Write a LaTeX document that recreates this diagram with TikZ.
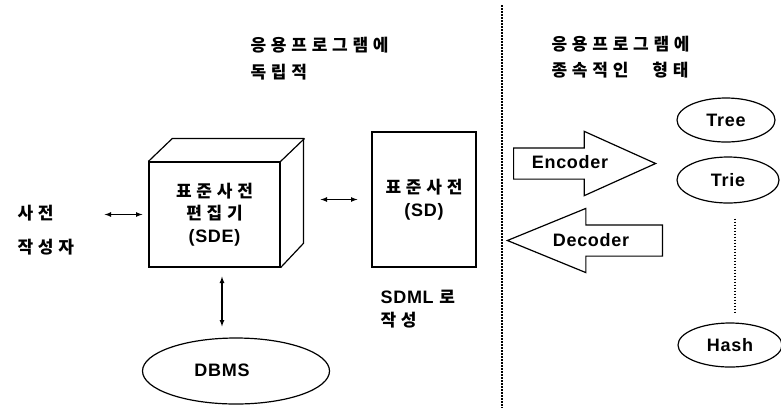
\documentclass[tikz,border=0pt]{standalone}
\usepackage{fontspec}
\setmainfont{Liberation Sans}[LetterSpace=4]
\newfontfamily\krfont{Noto Sans CJK KR}[LetterSpace=28]
\usepackage{tikz}
\usetikzlibrary{shapes.geometric}
\usetikzlibrary{shapes.arrows}
\usetikzlibrary{positioning}
\usetikzlibrary{calc}
\newcommand{\kr}{\krfont\bfseries\fontsize{17}{22.5}\selectfont}
\tikzset{every picture/.style={line width=1.2pt,x=1pt,y=-1pt},
krtxt/.style={font=\krfont\bfseries\fontsize{17}{26.5}\selectfont,inner sep=0pt,align=left},
lat/.style={font=\bfseries\fontsize{18}{22.5}\selectfont,inner sep=0pt},
box/.style={draw,rectangle,inner sep=0pt,align=center,font=\bfseries\fontsize{18}{22.5}\selectfont},
ell/.style={draw,ellipse,inner sep=0pt,font=\bfseries\fontsize{18}{22}\selectfont},
blk/.style={draw,single arrow,single arrow head extend=16.5pt,single arrow head indent=0pt,inner xsep=0pt,inner ysep=15pt},
dotline/.style={line width=1.6pt,dash pattern=on 1.6pt off 1.4pt}}

\begin{document}
\begin{tikzpicture}
\useasboundingbox (0,0) rectangle (781,408);
% headers
\node (hdrl) at (250,58.5) [krtxt,anchor=west] {응용프로그램에\\독립적};
\node (hdrr) at (551,57) [krtxt,anchor=west] {응용프로그램에\\종속적인\hspace{24pt}형태};
\coordinate (divtop) at (502,5);
\coordinate (divbot) at (502,408);
\draw[dotline] (divtop) -- (divbot);

% editor (cube)
\node (sde) at (214.5,214.5) [box,minimum width=131pt,minimum height=105pt] {{\kr 표준사전}\\{\kr 편집기}\\(SDE)};
\draw (sde.north west) -- ++(24,-23) -- ++(131,0) -- ++(0,105) -- (sde.south east);
\draw (sde.north east) -- ++(24,-23);
\node (writer) at (17,230) [krtxt,anchor=west,font=\krfont\bfseries\fontsize{17}{34}\selectfont] {사전\\작성자};
\draw[latex-latex,shorten <=30pt,shorten >=6pt] (writer.east |- sde.west) -- (sde.west);

% DBMS
\node (dbms) at (236,371) [ell,minimum width=187pt,minimum height=66pt] {};
\node (dbmstxt) at (222,370) [lat] {DBMS};
\draw[latex-latex,shorten <=9pt,shorten >=11pt] (sde.south -| dbmstxt) -- (dbms.north -| dbmstxt);

% standard dictionary
\node (sd) at (424,199.5) [box,minimum width=104pt,minimum height=135pt] {{\kr 표준사전}\\(SD)};
\draw[latex-latex,shorten <=40pt,shorten >=14pt] (sd.west -| sde.east) -- (sd.west);
\node (sdml) at (380,309) [lat,align=left,anchor=west] {SDML {\kr 로}\\{\kr 작성}};

% encoder / decoder
\node (enc) at (513,163.5) [blk,anchor=tail,minimum height=142pt,single arrow tip angle=48.5] {};
\node (enctxt) at (570,162) [lat] {Encoder};
\node (dec) at (663,240.5) [blk,anchor=tail,minimum height=155pt,single arrow tip angle=44.5,shape border rotate=180] {};
\node (dectxt) at (591,240) [lat] {Decoder};

% structures
\node (tree) at (726,120) [ell,minimum width=98pt,minimum height=44pt] {Tree};
\node (trie) at (728,180) [ell,minimum width=102pt,minimum height=46pt] {Trie};
\node (hash) at (730,345) [ell,minimum width=104pt,minimum height=44pt] {Hash};
\coordinate (lnk) at (735,0);
\draw[dotline,shorten <=15pt,shorten >=10pt] (trie.south -| lnk) -- (hash.north -| lnk);
\end{tikzpicture}
\end{document}
